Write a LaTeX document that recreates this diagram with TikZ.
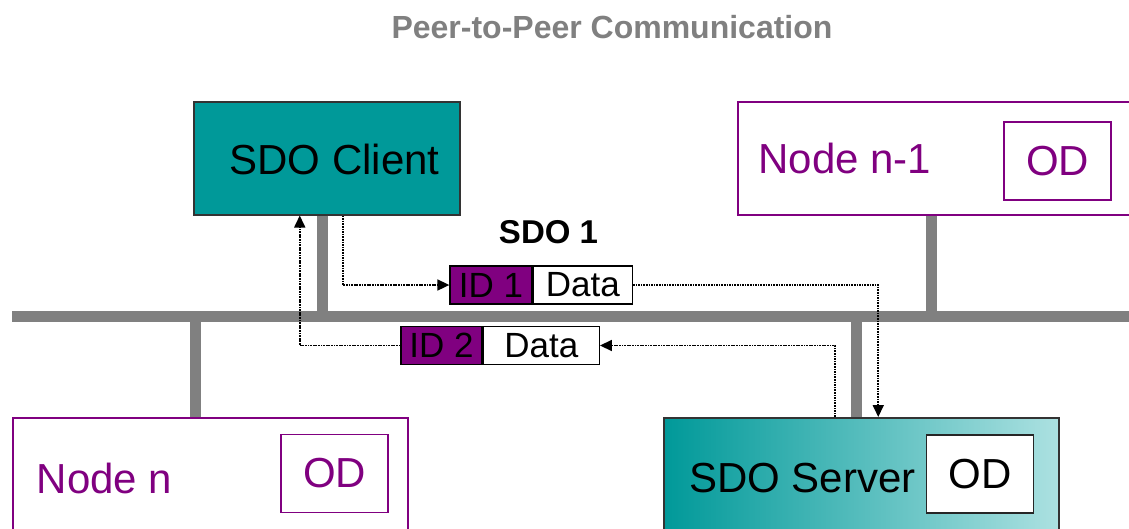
\documentclass[tikz,border=0pt]{standalone}
\usepackage{fontspec}
\setmainfont{Liberation Sans}
\usetikzlibrary{arrows.meta,calc}
\definecolor{tealA}{RGB}{0,153,153}
\definecolor{tealB}{RGB}{172,225,225}
\definecolor{purp}{RGB}{128,0,128}
\definecolor{busgray}{RGB}{128,128,128}
\begin{document}
\begin{tikzpicture}[x=1pt,y=-1pt,
  box/.style={draw, line width=1.5pt, inner sep=0pt, anchor=north west},
  pbox/.style={box, draw=purp, fill=white},
  odbox/.style={draw, line width=1.5pt, inner sep=0pt, minimum width=107pt, minimum height=78pt, font=\fontsize{42}{48}\selectfont},
  bigtext/.style={inner sep=0pt, anchor=base, font=\fontsize{42}{48}\selectfont},
  msgbox/.style={draw=black, line width=1.3pt, inner sep=0pt, minimum height=38pt, font=\fontsize{35}{40}\selectfont},
  stub/.style={draw=busgray, line width=11pt},
  msg/.style={draw=black, line width=1.7pt, dash pattern=on 1.7pt off 0.9pt, -{Triangle[length=12pt,width=11pt]}}
]
\useasboundingbox (0,0) rectangle (1129,528);
\clip (0,0) rectangle (1129,528);
\fill[white] (0,0) rectangle (1129,528);

% title
\node[inner sep=0pt, anchor=base, text=busgray, font=\fontsize{32}{36}\selectfont\bfseries] (title) at (612,38) {Peer-to-Peer Communication};

% bus
\coordinate (busL) at (12,316);
\coordinate (busR) at (1140,316);
\draw[stub] (busL) -- (busR);

% boxes
\node[box, draw=black!80, fill=tealA, minimum width=266pt, minimum height=113pt] (client) at (193,101) {};
\node[pbox, minimum width=400pt, minimum height=113pt] (noden1) at (737,101) {};
\node[pbox, minimum width=395pt, minimum height=130pt] (noden) at (12,417) {};
\node[box, draw=black!80, shading=axis, left color=tealA, right color=tealB, minimum width=395pt, minimum height=130pt] (server) at (663,417) {};

% stubs
\draw[stub] ([xshift=-4pt]client.south) -- ([xshift=-4pt]client.south |- busL);
\draw[stub] ([xshift=-6pt]noden1.south) -- ([xshift=-6pt]noden1.south |- busL);
\draw[stub] ([xshift=-15pt]noden.north) -- ([xshift=-15pt]noden.north |- busL);
\draw[stub] ([xshift=-4.5pt]server.north) -- ([xshift=-4.5pt]server.north |- busL);

% texts in boxes
\node[bigtext] (clientT) at (334.5,174) {SDO Client};
\node[bigtext, text=purp] (noden1T) at (845,173) {Node n-1};
\node[bigtext, text=purp] (nodenT) at (104.5,493) {Node n};
\node[bigtext] (serverT) at (802.5,492) {SDO Server};

\node[odbox, draw=purp, text=purp, fill=white] (od1) at (1057.5,161) {OD};
\node[odbox, draw=purp, text=purp, fill=white] (od2) at (334.5,473.5) {OD};
\node[odbox, draw=black!85, fill=white] (od3) at (980,474) {OD};

% SDO 1 label
\node[inner sep=0pt, anchor=base, font=\fontsize{33}{38}\selectfont\bfseries] (sdo1) at (548.5,243) {SDO 1};

% messages
\node[msgbox, fill=purp, minimum width=82pt] (id1) at (491,285) {ID 1};
\node[msgbox, fill=white, minimum width=99pt, anchor=west] (data1) at (id1.east) {Data};
\node[msgbox, fill=purp, minimum width=81pt] (id2) at (441.5,345.5) {ID 2};
\node[msgbox, fill=white, minimum width=116pt, anchor=west] (data2) at (id2.east) {Data};

% connectors
\draw[msg] ([xshift=16pt]client.south) |- (id1.west);
\draw[msg] (data1.east) -| ([xshift=17pt]server.north);
\draw[msg] ([xshift=-26pt]server.north) |- (data2.east);
\draw[msg] (id2.west) -| ([xshift=-27pt]client.south);
\end{tikzpicture}
\end{document}
